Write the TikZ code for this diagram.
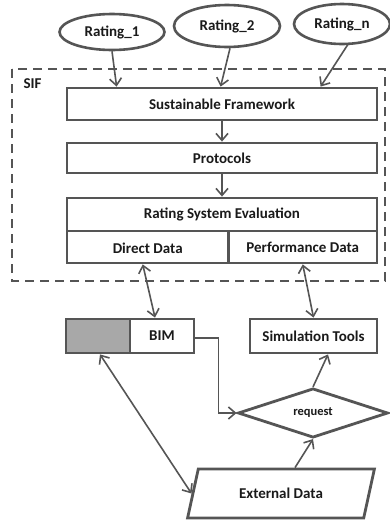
\documentclass[tikz,border=0pt]{standalone}
\usepackage{fontspec}
\setmainfont{Carlito}
\usetikzlibrary{arrows.meta,shapes.geometric,calc}
\definecolor{ln}{HTML}{555555}
\definecolor{gfill}{HTML}{A8A8A8}
\definecolor{tx}{HTML}{1A1A1A}
\tikzset{
  x=1pt, y=-1pt,
  every node/.style={font=\bfseries\fontsize{15}{18}\selectfont, text=tx},
  box/.style={draw=ln, line width=2.8pt, rectangle, inner sep=0pt, fill=white},
  rating/.style={draw=ln, line width=2.6pt, ellipse, inner sep=0pt, fill=white},
  arr/.style={draw=ln, line width=1.6pt, -{Straight Barb[length=7pt,width=12pt,line width=1.6pt]}},
  darr/.style={draw=ln, line width=1.6pt, {Straight Barb[length=7pt,width=12pt,line width=1.6pt]}-{Straight Barb[length=7pt,width=12pt,line width=1.6pt]}},
  sifbox/.style={draw=ln, line width=2pt, dash pattern=on 9pt off 6pt}
}
\begin{document}
\begin{tikzpicture}
\useasboundingbox[fill=white] (0,0) rectangle (390,523);
% SIF dashed frame
\draw[sifbox] (12,69) rectangle (385,281);
\node[anchor=west] (sif) at (20,84) {SIF};
% ratings
\node[rating, minimum width=105pt, minimum height=36pt] (r1) at (112,32) {Rating\_1};
\node[rating, minimum width=106pt, minimum height=42pt] (r2) at (227,26) {Rating\_2};
\node[rating, minimum width=96pt, minimum height=40pt] (rn) at (342,24) {Rating\_n};
% boxes
\node[box, minimum width=310pt, minimum height=32pt] (sf) at (222,104) {Sustainable Framework};
\node[box, minimum width=310pt, minimum height=30pt] (prot) at (222,158) {Protocols};
\node[box, minimum width=310pt, minimum height=33pt] (rse) at (222,214.5) {Rating System Evaluation};
\node[box, minimum width=161.5pt, minimum height=32pt, text depth=0pt] (dd) at (147.75,247) {\raisebox{-3pt}{Direct Data}};
\node[box, minimum width=148.5pt, minimum height=32pt] (pd) at (302.75,247) {Performance Data};
\node[box, minimum width=64pt, minimum height=34pt, fill=gfill] (bimg) at (98,336) {};
\node[box, minimum width=64pt, minimum height=34pt] (bim) at (162,336) {\raisebox{-3pt}{BIM}};
\node[box, minimum width=127pt, minimum height=34pt] (sim) at (313.5,336) {\raisebox{-2pt}{Simulation Tools}};
\node[draw=ln, line width=2.8pt, diamond, minimum width=150pt, minimum height=40pt, inner sep=0pt, fill=white, font=\bfseries\fontsize{12.5}{14}\selectfont] (req) at (313,413) {request};
\node[draw=ln, line width=2.8pt, trapezium, trapezium left angle=63, trapezium right angle=117, trapezium stretches=true, minimum width=188pt, minimum height=49pt, inner sep=0pt, fill=white] (ext) at (281,493.5) {\raisebox{-4pt}{External Data}};
% connectors
\draw[arr] (r1.south) -- ($(sf.north west)+(51,0)$);
\draw[arr] ($(r2.south)+(3,0)$) -- ($(sf.north west)+(155,0)$);
\draw[arr] ($(rn.south)+(6,-1)$) -- ($(sf.north west)+(255,0)$);
\draw[arr] (sf.south) -- (prot.north);
\draw[arr] (prot.south) -- (rse.north);
\draw[darr] ($(dd.south)+(-5,0)$) -- ($(bim.north)+(-7,0)$);
\draw[darr] (pd.south) -- (sim.north);
\draw[arr, line width=1.2pt] ($(bim.east)+(0,2)$) -- ++(23,0) |- (req.west);
\draw[arr] (req.north) -- ($(sim.south)+(14.5,0)$);
\draw[arr] ($(ext.north)+(14,0)$) -- (req.south);
\draw[darr] ($(bimg.south)+(2,0)$) -- (ext.west);
\end{tikzpicture}
\end{document}
